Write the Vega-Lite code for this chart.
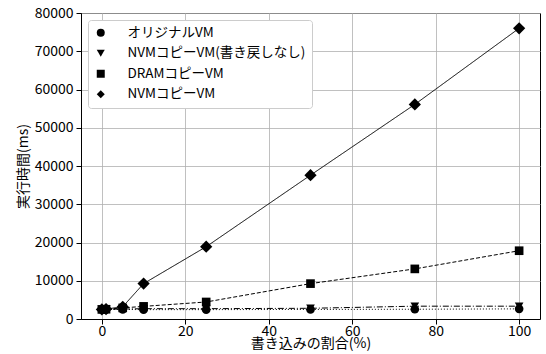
{
  "$schema": "https://vega.github.io/schema/vega-lite/v6.json",
  "width": 459,
  "height": 306,
  "autosize": {"type": "none"},
  "padding": {"left": 81, "top": 13, "right": 6, "bottom": 35},
  "background": "white",
  "config": {
    "font": "Noto Sans CJK JP",
    "view": {"stroke": "black", "strokeWidth": 1},
    "axis": {
      "labelFont": "Noto Sans CJK JP",
      "titleFont": "Noto Sans CJK JP",
      "labelFontSize": 14,
      "titleFontSize": 14,
      "titleFontWeight": "normal",
      "labelColor": "black",
      "titleColor": "black",
      "domainColor": "black",
      "tickColor": "black",
      "tickSize": 5,
      "gridColor": "#b0b0b0",
      "gridWidth": 0.8
    },
    "legend": {
      "labelFont": "Noto Sans CJK JP",
      "labelFontSize": 13.5,
      "labelColor": "black",
      "labelLimit": 0,
      "orient": "top-left",
      "offset": 7,
      "padding": 6,
      "fillColor": "white",
      "strokeColor": "#cccccc",
      "cornerRadius": 3,
      "symbolSize": 64,
      "labelOffset": 20,
      "rowPadding": 5.5
    }
  },
  "data": {
    "values": [
      {"rate": 0, "time": 2500, "series": "オリジナルVM"},
      {"rate": 1, "time": 2500, "series": "オリジナルVM"},
      {"rate": 5, "time": 2500, "series": "オリジナルVM"},
      {"rate": 10, "time": 2450, "series": "オリジナルVM"},
      {"rate": 25, "time": 2450, "series": "オリジナルVM"},
      {"rate": 50, "time": 2500, "series": "オリジナルVM"},
      {"rate": 75, "time": 2550, "series": "オリジナルVM"},
      {"rate": 100, "time": 2650, "series": "オリジナルVM"},
      {"rate": 0, "time": 2550, "series": "NVMコピーVM(書き戻しなし)"},
      {"rate": 1, "time": 2550, "series": "NVMコピーVM(書き戻しなし)"},
      {"rate": 5, "time": 2600, "series": "NVMコピーVM(書き戻しなし)"},
      {"rate": 10, "time": 2700, "series": "NVMコピーVM(書き戻しなし)"},
      {"rate": 25, "time": 2700, "series": "NVMコピーVM(書き戻しなし)"},
      {"rate": 50, "time": 2800, "series": "NVMコピーVM(書き戻しなし)"},
      {"rate": 75, "time": 3350, "series": "NVMコピーVM(書き戻しなし)"},
      {"rate": 100, "time": 3350, "series": "NVMコピーVM(書き戻しなし)"},
      {"rate": 0, "time": 2500, "series": "DRAMコピーVM"},
      {"rate": 1, "time": 2550, "series": "DRAMコピーVM"},
      {"rate": 5, "time": 2900, "series": "DRAMコピーVM"},
      {"rate": 10, "time": 3300, "series": "DRAMコピーVM"},
      {"rate": 25, "time": 4450, "series": "DRAMコピーVM"},
      {"rate": 50, "time": 9250, "series": "DRAMコピーVM"},
      {"rate": 75, "time": 13100, "series": "DRAMコピーVM"},
      {"rate": 100, "time": 17850, "series": "DRAMコピーVM"},
      {"rate": 0, "time": 2500, "series": "NVMコピーVM"},
      {"rate": 1, "time": 2600, "series": "NVMコピーVM"},
      {"rate": 5, "time": 3200, "series": "NVMコピーVM"},
      {"rate": 10, "time": 9250, "series": "NVMコピーVM"},
      {"rate": 25, "time": 18900, "series": "NVMコピーVM"},
      {"rate": 50, "time": 37600, "series": "NVMコピーVM"},
      {"rate": 75, "time": 56100, "series": "NVMコピーVM"},
      {"rate": 100, "time": 76000, "series": "NVMコピーVM"}
    ]
  },
  "encoding": {
    "x": {
      "field": "rate",
      "type": "quantitative",
      "scale": {"domain": [-5, 105], "nice": false, "zero": false},
      "axis": {"values": [0, 20, 40, 60, 80, 100], "title": "書き込みの割合(%)", "labelPadding": 0, "titlePadding": -2}
    },
    "y": {
      "field": "time",
      "type": "quantitative",
      "scale": {"domain": [0, 80000], "nice": false},
      "axis": {"values": [0, 10000, 20000, 30000, 40000, 50000, 60000, 70000, 80000], "format": "d", "title": "実行時間(ms)", "labelPadding": 3, "titlePadding": 4}
    }
  },
  "layer": [
    {
      "mark": {"type": "line", "color": "black", "strokeWidth": 1},
      "encoding": {
        "strokeDash": {
          "field": "series",
          "type": "nominal",
          "scale": {
            "domain": ["NVMコピーVM", "DRAMコピーVM", "NVMコピーVM(書き戻しなし)", "オリジナルVM"],
            "range": [[1, 0], [4, 2], [6, 2, 1, 2], [1, 2]]
          },
          "legend": null
        }
      }
    },
    {
      "transform": [{"filter": "datum.series !== 'NVMコピーVM'"}],
      "mark": {"type": "point", "filled": true, "color": "black", "opacity": 1, "size": 75},
      "encoding": {
        "shape": {
          "field": "series",
          "type": "nominal",
          "scale": {
            "domain": ["オリジナルVM", "NVMコピーVM(書き戻しなし)", "DRAMコピーVM", "NVMコピーVM"],
            "range": ["circle", "triangle-down", "square", "diamond"]
          },
          "legend": {"title": null}
        }
      }
    },
    {
      "transform": [{"filter": "datum.series === 'NVMコピーVM'"}],
      "mark": {"type": "point", "filled": true, "color": "black", "opacity": 1, "size": 150},
      "encoding": {
        "shape": {
          "field": "series",
          "type": "nominal",
          "scale": {
            "domain": ["オリジナルVM", "NVMコピーVM(書き戻しなし)", "DRAMコピーVM", "NVMコピーVM"],
            "range": ["circle", "triangle-down", "square", "diamond"]
          },
          "legend": {"title": null}
        }
      }
    }
  ]
}
